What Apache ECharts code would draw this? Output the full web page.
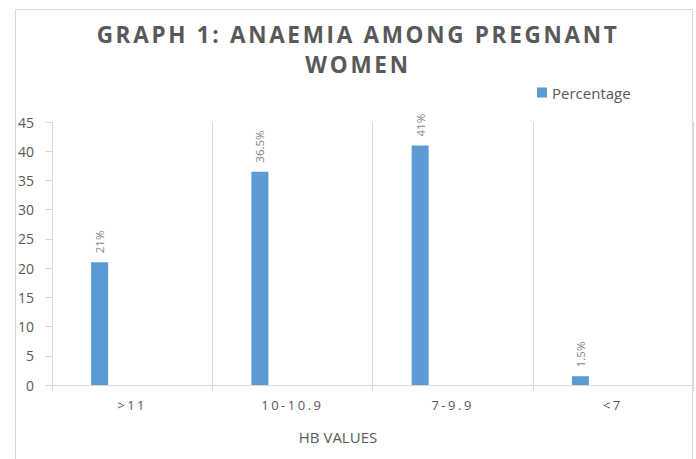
<!DOCTYPE html>
<html>
<head>
<meta charset="utf-8">
<script src="https://cdn.jsdelivr.net/npm/echarts@6/dist/echarts.min.js"></script>
<style>
html, body { margin: 0; padding: 0; background: #fff; }
#main { width: 696px; height: 459px; }
/* Excel-like letter spacing for the title and category labels */
#main text[style*="bold"] { letter-spacing: 2.7px; }
#main text[style*=" 13px"] { letter-spacing: 2.5px; }
</style>
</head>
<body>
<div id="main"></div>
<script>
var categories = ['>11', '10-10.9', '7-9.9', '<7'];
var percentage = [21, 36.5, 41, 1.5];
var emptySeries = [null, null, null, null];

var myChart = echarts.init(document.getElementById('main'), null, { renderer: 'svg' });

var option = {
    backgroundColor: '#fff',
    textStyle: { fontFamily: 'Open Sans' },
    graphic: [{
        type: 'rect',
        shape: { x: 15.5, y: 9.5, width: 677, height: 470 },
        style: { fill: 'none', stroke: '#d9d9d9', lineWidth: 1 },
        silent: true
    }],
    title: [{
        text: 'GRAPH 1: ANAEMIA AMONG PREGNANT\nWOMEN',
        left: 353,
        top: 14,
        textAlign: 'center',
        textStyle: {
            fontFamily: 'Open Sans',
            fontSize: 22.5,
            fontWeight: 'bold',
            color: '#595959',
            lineHeight: 30
        }
    }, {
        text: 'HB VALUES',
        left: 333,
        top: 424,
        textAlign: 'center',
        textStyle: {
            fontFamily: 'Open Sans',
            fontSize: 15,
            fontWeight: 'normal',
            color: '#595959'
        }
    }],
    legend: {
        data: ['Percentage'],
        left: 532,
        top: 80,
        icon: 'rect',
        itemWidth: 10,
        itemHeight: 10,
        itemGap: 6,
        textStyle: { fontSize: 15, color: '#595959' }
    },
    grid: { left: 52, right: 3, top: 122, bottom: 74 },
    xAxis: {
        type: 'category',
        data: categories,
        axisLine: { lineStyle: { color: '#d9d9d9' } },
        axisTick: { show: true, length: 6, lineStyle: { color: '#d9d9d9' } },
        splitLine: { show: true, lineStyle: { color: '#d9d9d9' } },
        axisLabel: { fontSize: 13, color: '#595959', margin: 13 }
    },
    yAxis: {
        type: 'value',
        min: 0,
        max: 45,
        interval: 5,
        axisLine: { show: true, lineStyle: { color: '#d9d9d9' } },
        axisTick: { show: true, length: 7, lineStyle: { color: '#d9d9d9' } },
        splitLine: { show: false },
        axisLabel: { fontSize: 14, color: '#595959', margin: 18 }
    },
    series: [{
        name: 'Percentage',
        type: 'bar',
        data: percentage,
        barWidth: 17,
        barGap: '282%',
        itemStyle: { color: '#5b9bd5' },
        label: {
            show: true,
            position: 'top',
            rotate: 90,
            distance: 9,
            align: 'left',
            verticalAlign: 'middle',
            fontSize: 11.5,
            color: '#7f7f7f',
            formatter: '{c}%'
        }
    }, {
        name: 'blank',
        type: 'bar',
        data: emptySeries,
        barWidth: 17,
        itemStyle: { color: '#ed7d31' }
    }]
};

myChart.setOption(option);
</script>
</body>
</html>
